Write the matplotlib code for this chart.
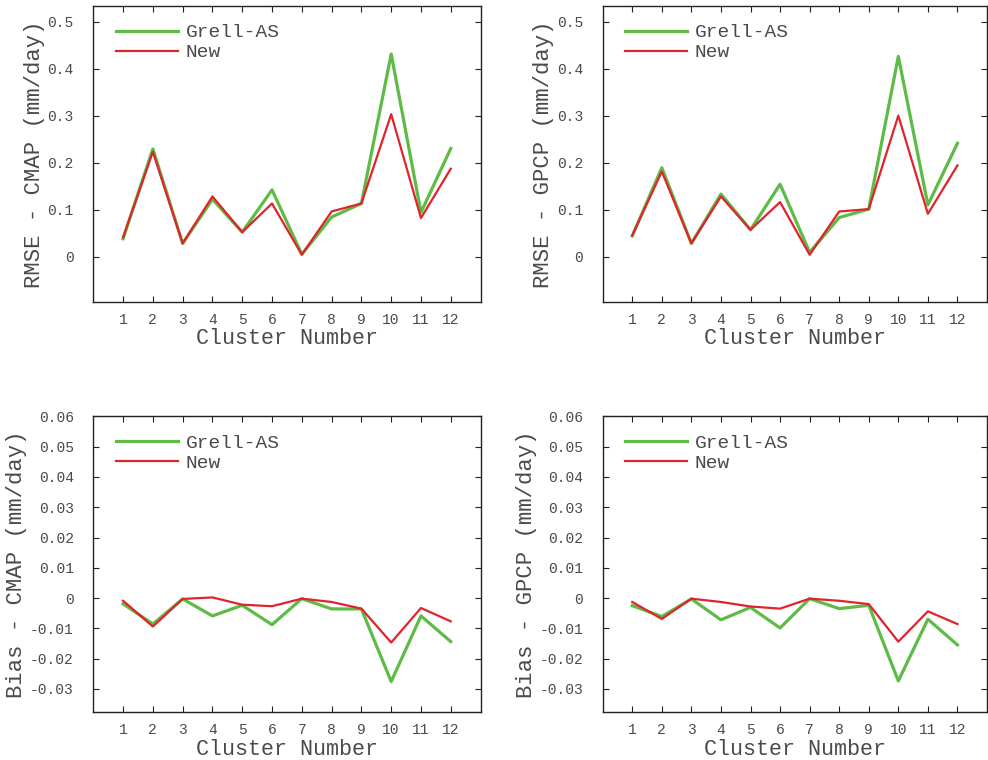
import numpy as np
import matplotlib.pyplot as plt

plt.rcParams['font.family'] = ['Liberation Mono', 'DejaVu Sans Mono']

clusters = np.arange(1, 13)

rmse_cmap_grell = [0.038, 0.229, 0.028, 0.122, 0.052, 0.142, 0.005, 0.084, 0.113, 0.431, 0.094, 0.230]
rmse_cmap_new = [0.041, 0.223, 0.028, 0.128, 0.052, 0.113, 0.004, 0.096, 0.113, 0.303, 0.082, 0.187]

rmse_gpcp_grell = [0.044, 0.189, 0.028, 0.133, 0.057, 0.154, 0.009, 0.083, 0.101, 0.426, 0.110, 0.241]
rmse_gpcp_new = [0.045, 0.181, 0.028, 0.128, 0.057, 0.116, 0.004, 0.096, 0.101, 0.300, 0.091, 0.194]

bias_cmap_grell = [-0.0019, -0.0086, -0.0003, -0.0059, -0.0024, -0.0088, -0.0002, -0.0036, -0.0036, -0.0276, -0.0059, -0.0144]
bias_cmap_new = [-0.0009, -0.0094, -0.0003, 0.0002, -0.0022, -0.0027, -0.0002, -0.0013, -0.0035, -0.0147, -0.0033, -0.0077]

bias_gpcp_grell = [-0.0025, -0.0061, -0.0003, -0.0072, -0.0031, -0.0099, -0.0002, -0.0035, -0.0024, -0.0274, -0.0070, -0.0155]
bias_gpcp_new = [-0.0013, -0.0069, -0.0002, -0.0013, -0.0028, -0.0035, -0.0002, -0.0009, -0.0020, -0.0144, -0.0044, -0.0086]

rmse_ticks = [0, 0.1, 0.2, 0.3, 0.4, 0.5]
rmse_ticklabels = ['0', '0.1', '0.2', '0.3', '0.4', '0.5']
bias_ticks = [-0.03, -0.02, -0.01, 0, 0.01, 0.02, 0.03, 0.04, 0.05, 0.06]
bias_ticklabels = ['-0.03', '-0.02', '-0.01', '0', '0.01', '0.02', '0.03', '0.04', '0.05', '0.06']

green = '#5dbb46'
red = '#e0232c'
txt = '#4a4a4a'

fig = plt.figure(figsize=(9.88, 7.6), dpi=100)

panels = [
    ([0.0944, 0.603, 0.392, 0.389], rmse_cmap_grell, rmse_cmap_new, 'RMSE - CMAP (mm/day)',
     (-0.096, 0.533), rmse_ticks, rmse_ticklabels),
    ([0.610, 0.603, 0.389, 0.389], rmse_gpcp_grell, rmse_gpcp_new, 'RMSE - GPCP (mm/day)',
     (-0.096, 0.533), rmse_ticks, rmse_ticklabels),
    ([0.0944, 0.063, 0.392, 0.389], bias_cmap_grell, bias_cmap_new, 'Bias - CMAP (mm/day)',
     (-0.0377, 0.06), bias_ticks, bias_ticklabels),
    ([0.610, 0.063, 0.389, 0.389], bias_gpcp_grell, bias_gpcp_new, 'Bias - GPCP (mm/day)',
     (-0.0377, 0.06), bias_ticks, bias_ticklabels),
]

for rect, g, n, ylab, ylim, yt, ytl in panels:
    ax = fig.add_axes(rect)
    ax.plot(clusters, g, color=green, lw=2.3, label='Grell-AS')
    ax.plot(clusters, n, color=red, lw=1.6, label='New')
    ax.set_xlim(0, 13)
    ax.set_ylim(*ylim)
    ax.set_xticks(clusters)
    ax.set_yticks(yt)
    ax.set_yticklabels(ytl)
    ax.tick_params(direction='in', top=True, right=True, length=4, width=0.8,
                   labelsize=10.5, labelcolor=txt, color='#222222')
    ax.tick_params(axis='y', pad=14)
    ax.tick_params(axis='x', pad=8)
    for s in ax.spines.values():
        s.set_linewidth(1.0)
        s.set_color('#222222')
    ax.set_xlabel('Cluster Number', fontsize=15.6, color=txt, labelpad=1)
    ax.set_ylabel(ylab, fontsize=16, color=txt, labelpad=2)
    leg = ax.legend(loc='upper left', bbox_to_anchor=(0.058, 0.94), frameon=False,
                    fontsize=14, handlelength=3.2, handletextpad=0.4,
                    labelspacing=0.12, borderpad=0, borderaxespad=0)
    for t in leg.get_texts():
        t.set_color(txt)

fig.savefig('out.png', dpi=100)
